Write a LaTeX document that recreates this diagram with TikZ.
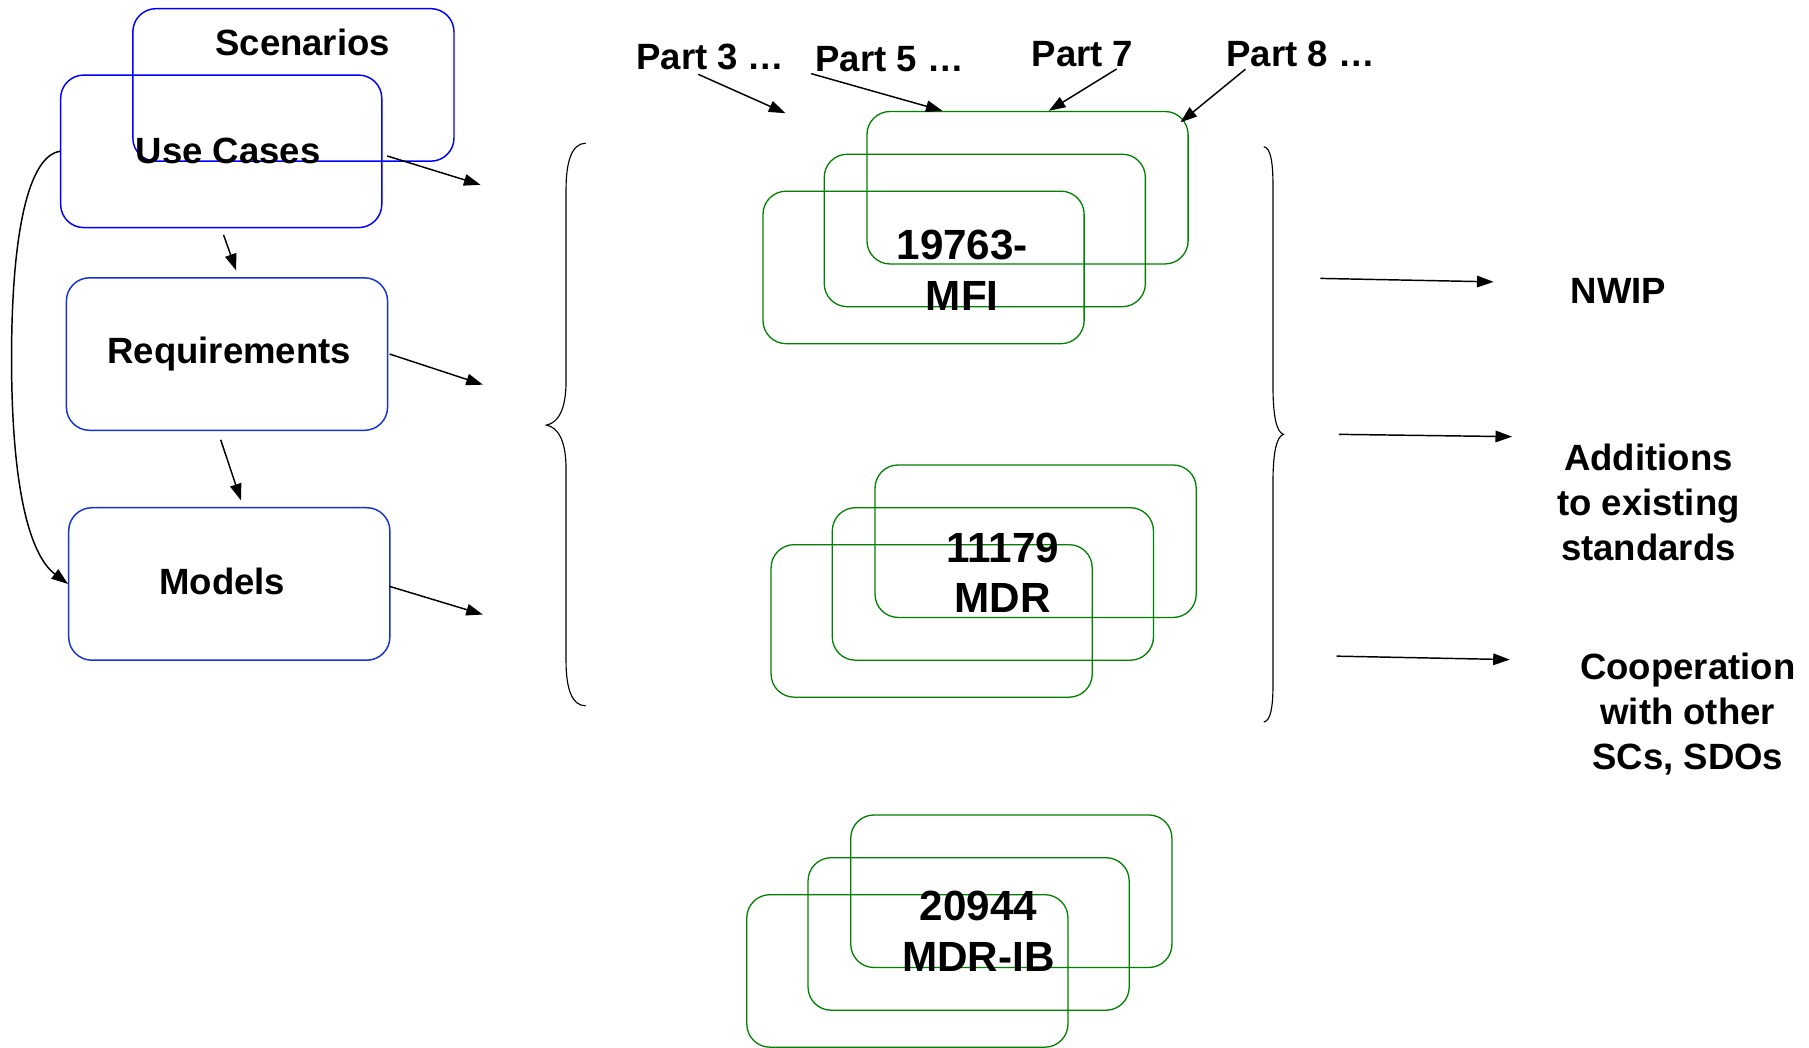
\documentclass[tikz,border=0pt]{standalone}
\usepackage{fontspec}
\setmainfont{Liberation Sans}
\usepackage{tikz}
\usetikzlibrary{positioning,calc,arrows.meta}
\definecolor{boxblue}{RGB}{0,0,255}
\definecolor{reqblue}{RGB}{20,50,215}
\definecolor{stdgreen}{RGB}{0,128,0}

\begin{document}
\begin{tikzpicture}[x=0.25mm, y=-0.25mm,
    lbl/.style={font=\fontsize{22.5}{27.7}\selectfont\bfseries, inner sep=1pt, align=center},
    stdlbl/.style={lbl, font=\fontsize{26}{31}\selectfont\bfseries},
    bbox/.style={draw=boxblue, line width=0.9pt, rounded corners=5mm, minimum width=69.5mm, minimum height=33mm, inner sep=0pt},
    gbox/.style={draw=stdgreen, line width=0.8pt, rounded corners=5mm, minimum width=69.5mm, minimum height=33mm, inner sep=0pt},
    arr/.style={-{Triangle[length=3.6mm,width=2.5mm]}, line width=0.9pt}]
        \useasboundingbox (0,0) rectangle (1566,906.4);

        % blue boxes on the left
        \node[bbox] (scen) at (254,73.5) {};
        \node[lbl] (scenlbl) at (262,37) {Scenarios};
        \node[bbox, lbl] (uc) at (191.5,131) {\hspace*{3mm}Use Cases};
        \node[bbox, lbl, draw=reqblue] (req) at (196.5,306.5) {\hspace*{1mm}Requirements};
        \node[bbox, lbl, draw=reqblue] (mod) at (198.5,505.5) {\hspace*{-3mm}\raisebox{1mm}{Models}};

        \draw[arr, shorten <=1.5mm, shorten >=1.5mm] (uc.south) -- ([xshift=2.5mm]req.north);
        \draw[arr, shorten <=2mm, shorten >=1.5mm] ([xshift=-2mm]req.south) -- ([xshift=3mm]mod.north);
        \draw[arr] (uc.west) .. controls (25,135) and (10,200) .. (10,310)
            .. controls (10,420) and (25,480) .. (mod.west);

        % arrows into the brace
        \coordinate (ucend) at (416,160);
        \coordinate (reqend) at (418,333);
        \coordinate (modend) at (418,532);
        \draw[arr] ([shift={(1mm,-1mm)}]uc.east) -- (ucend);
        \draw[arr] ([xshift=0.3mm]req.east) -- (reqend);
        \draw[arr] ([shift={(-0.3mm,-0.5mm)}]mod.east) -- (modend);

        % left brace
        \draw[line width=0.7pt] (507,124) .. controls (495,124) and (490,140) .. (490,164) -- (490,330)
            .. controls (490,355) and (483,366) .. (473,368) .. controls (483,370) and (490,381) .. (490,406)
            -- (490,572) .. controls (490,596) and (495,611) .. (507,611);

        % stacks of green boxes
        \foreach \n/\x/\y in {mfi/750/96, mdr/757/402, ib/736/705} {
            \node[gbox] (\n-a) at (\x+139.5,\y+66.5) {};
            \node[gbox] (\n-b) at (\x+102.5,\y+103.5) {};
            \node[gbox] (\n-c) at (\x+49.5,\y+135.5) {};
        }
        \node[stdlbl] (mfi) at (833,234) {19763-\\MFI};
        \node[stdlbl] (mdr) at (868,496) {11179\\MDR};
        \node[stdlbl] (ib) at (847,806) {20944\\MDR-IB};

        % parts
        \node[lbl] (p3) at (615,49) {Part 3 …};
        \node[lbl] (p5) at (770,51) {Part 5 …};
        \node[lbl] (p7) at (937,47) {Part 7};
        \node[lbl] (p8) at (1126,47) {Part 8 …};
        \coordinate (p3end) at (680,98);
        \draw[arr, shorten <=1.5mm] ([xshift=-4mm]p3.south) -- (p3end);
        \draw[arr] ([xshift=-0.5mm]p5.south west) -- ([xshift=16.5mm]mfi-a.north west);
        \draw[arr] ([xshift=-4mm]p7.south east) -- ([xshift=4.6mm]mfi-a.north);
        \draw[arr] ([xshift=4.5mm]p8.south west) -- ([shift={(-1.8mm,-2.5mm)}]mfi-a.north east);

        % right brace
        \draw[line width=0.7pt] (1094,127) .. controls (1100,128) and (1102,140) .. (1102,162) -- (1102,335)
            .. controls (1102,360) and (1105,374) .. (1111,376) .. controls (1105,378) and (1102,392) .. (1102,417)
            -- (1102,592) .. controls (1102,612) and (1100,624) .. (1094,625);

        % results
        \node[lbl] (nwip) at (1401,252) {NWIP};
        \node[lbl] (add) at (1427,435) {Additions\\to existing\\standards};
        \node[lbl] (coop) at (1461,618) {Cooperation\\with other\\SCs, SDOs};
        \coordinate (r1a) at (1143,241);
        \coordinate (r1b) at (1293,244);
        \coordinate (r2a) at (1159,376);
        \coordinate (r2b) at (1309,378);
        \coordinate (r3a) at (1157,568);
        \coordinate (r3b) at (1307,571);
        \draw[arr] (r1a) -- (r1b);
        \draw[arr] (r2a) -- (r2b);
        \draw[arr] (r3a) -- (r3b);
\end{tikzpicture}
\end{document}
